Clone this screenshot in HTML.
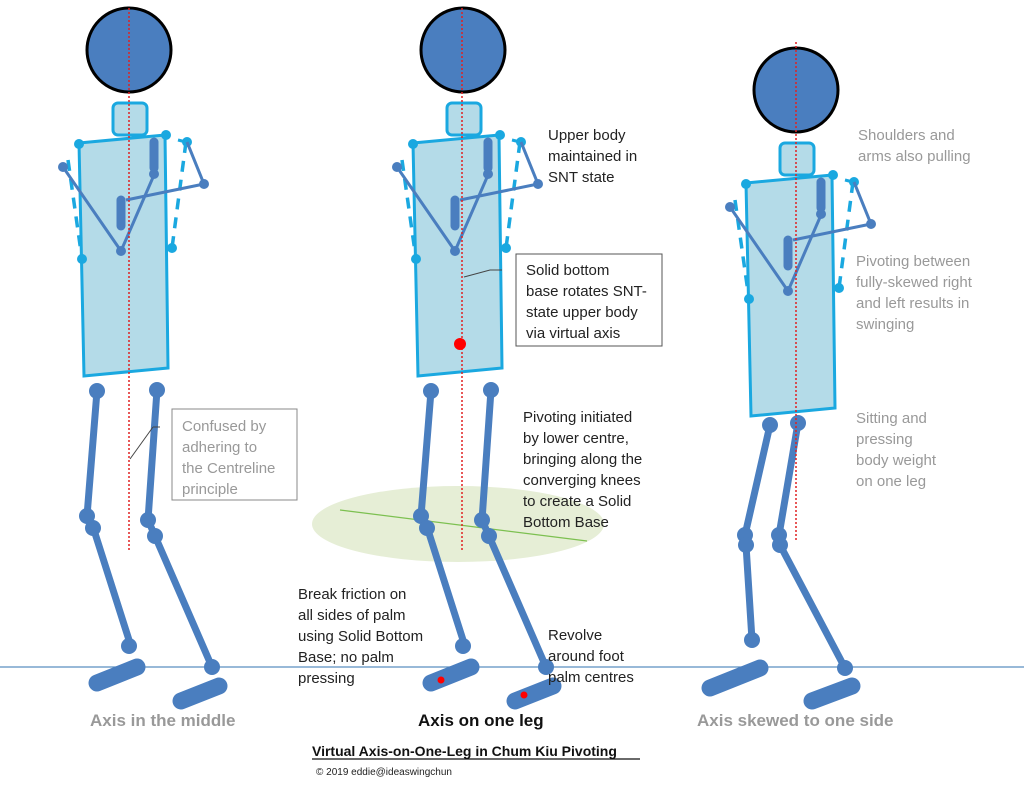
<!DOCTYPE html>
<html><head><meta charset="utf-8"><style>
body{margin:0;background:#fff}
svg{display:block}
text{font-family:"Liberation Sans",sans-serif}
</style></head><body>
<svg width="1024" height="788" viewBox="0 0 1024 788" xmlns="http://www.w3.org/2000/svg">
<defs>
<g id="upper">
 <polygon points="79,143 165,135 168,368 84,376" fill="#b4dbe8" stroke="#1aa8e0" stroke-width="3"/>
 <rect x="113" y="103" width="34" height="32" rx="5" fill="#b4dbe8" stroke="#1aa8e0" stroke-width="3"/>
 <circle cx="129" cy="50" r="42" fill="#4a7ebf" stroke="#000" stroke-width="3"/>
 <line x1="68" y1="160" x2="82" y2="259" stroke="#1aa8e0" stroke-width="3.5" stroke-dasharray="11,8"/>
 <line x1="186" y1="142" x2="172" y2="248" stroke="#1aa8e0" stroke-width="3.5" stroke-dasharray="11,8"/>
 <line x1="178" y1="140" x2="186" y2="142" stroke="#1aa8e0" stroke-width="3"/>
 <circle cx="79" cy="144" r="5" fill="#1aa8e0"/><circle cx="166" cy="135" r="5" fill="#1aa8e0"/>
 <circle cx="82" cy="259" r="5" fill="#1aa8e0"/><circle cx="172" cy="248" r="5" fill="#1aa8e0"/>
 <circle cx="187" cy="142" r="5" fill="#1aa8e0"/>
 <polyline points="63,167 121,251 154,175" fill="none" stroke="#4a7ebf" stroke-width="3"/>
 <polyline points="187,142 204,184 126,200" fill="none" stroke="#4a7ebf" stroke-width="3"/>
 <line x1="154" y1="142" x2="154" y2="168" stroke="#4a7ebf" stroke-width="9" stroke-linecap="round"/>
 <line x1="121" y1="200" x2="121" y2="226" stroke="#4a7ebf" stroke-width="9" stroke-linecap="round"/>
 <circle cx="63" cy="167" r="5" fill="#4a7ebf"/><circle cx="121" cy="251" r="5" fill="#4a7ebf"/>
 <circle cx="204" cy="184" r="5" fill="#4a7ebf"/><circle cx="154" cy="174" r="5" fill="#4a7ebf"/>
</g>
<g id="legs">
 <g stroke="#4a7ebf" stroke-width="7" stroke-linecap="round" fill="none">
  <polyline points="97,391 87,516 93,527 129,640"/>
  <polyline points="157,390 148,520 155,536 212,667"/>
 </g>
 <g stroke="#4a7ebf" stroke-width="17" stroke-linecap="round">
  <line x1="97" y1="683" x2="137" y2="667"/>
  <line x1="181" y1="701" x2="219" y2="686"/>
 </g>
 <g fill="#4a7ebf">
  <circle cx="97" cy="391" r="8"/><circle cx="157" cy="390" r="8"/>
  <circle cx="87" cy="516" r="8"/><circle cx="93" cy="528" r="8"/>
  <circle cx="148" cy="520" r="8"/><circle cx="155" cy="536" r="8"/>
  <circle cx="129" cy="646" r="8"/><circle cx="212" cy="667" r="8"/>
 </g>
</g>
</defs>
<line x1="0" y1="667" x2="1024" y2="667" stroke="#5b8fc0" stroke-width="1.3"/>
<ellipse cx="458" cy="524" rx="146" ry="38" fill="#e6eed6"/>
<line x1="340" y1="510" x2="587" y2="541" stroke="#7cc050" stroke-width="1.2"/>

<use href="#legs"/>
<use href="#upper"/>
<line x1="129" y1="8" x2="129" y2="552" stroke="#e02020" stroke-width="1.5" stroke-dasharray="2,2"/>

<g transform="translate(334,0)"><use href="#legs"/><use href="#upper"/></g>
<line x1="462" y1="8" x2="462" y2="552" stroke="#e02020" stroke-width="1.5" stroke-dasharray="2,2"/>
<circle cx="460" cy="344" r="6" fill="#f00"/>
<circle cx="441" cy="680" r="3.5" fill="#f00"/>
<circle cx="524" cy="695" r="3.5" fill="#f00"/>

<!-- figure 3 -->
<g stroke="#4a7ebf" stroke-width="7" stroke-linecap="round" fill="none">
 <polyline points="770,425 745,535 746,545 752,640"/>
 <polyline points="798,423 779,535 780,545 845,668"/>
</g>
<g stroke="#4a7ebf" stroke-width="17" stroke-linecap="round">
 <line x1="710" y1="688" x2="760" y2="668"/>
 <line x1="812" y1="701" x2="852" y2="686"/>
</g>
<g fill="#4a7ebf">
 <circle cx="770" cy="425" r="8"/><circle cx="798" cy="423" r="8"/>
 <circle cx="745" cy="535" r="8"/><circle cx="746" cy="545" r="8"/>
 <circle cx="779" cy="535" r="8"/><circle cx="780" cy="545" r="8"/>
 <circle cx="752" cy="640" r="8"/><circle cx="845" cy="668" r="8"/>
</g>
<g transform="translate(667,40)"><use href="#upper"/></g>
<line x1="796" y1="42" x2="796" y2="542" stroke="#e02020" stroke-width="1.5" stroke-dasharray="2,2"/>

<!-- callouts -->
<rect x="172" y="409" width="125" height="91" fill="#fff" stroke="#888" stroke-width="1"/>
<line x1="130" y1="459" x2="153" y2="427" stroke="#444" stroke-width="1"/>
<line x1="153" y1="427" x2="160" y2="427" stroke="#444" stroke-width="1"/>
<g font-size="15" fill="#999">
 <text x="182" y="431">Confused by</text>
 <text x="182" y="452">adhering to</text>
 <text x="182" y="473">the Centreline</text>
 <text x="182" y="494">principle</text>
</g>
<rect x="516" y="254" width="146" height="92" fill="#fff" stroke="#555" stroke-width="1"/>
<polyline points="464,277 490,270 502,270" fill="none" stroke="#444" stroke-width="1"/>
<g font-size="15" fill="#222">
 <text x="526" y="275">Solid bottom</text>
 <text x="526" y="296">base rotates SNT-</text>
 <text x="526" y="317">state upper body</text>
 <text x="526" y="338">via virtual axis</text>
 <text x="548" y="140">Upper body</text>
 <text x="548" y="161">maintained in</text>
 <text x="548" y="182">SNT state</text>
 <text x="523" y="422">Pivoting initiated</text>
 <text x="523" y="443">by lower centre,</text>
 <text x="523" y="464">bringing along the</text>
 <text x="523" y="485">converging knees</text>
 <text x="523" y="506">to create a Solid</text>
 <text x="523" y="527">Bottom Base</text>
 <text x="298" y="599">Break friction on</text>
 <text x="298" y="620">all sides of palm</text>
 <text x="298" y="641">using Solid Bottom</text>
 <text x="298" y="662">Base; no palm</text>
 <text x="298" y="683">pressing</text>
 <text x="548" y="640">Revolve</text>
 <text x="548" y="661">around foot</text>
 <text x="548" y="682">palm centres</text>
</g>
<g font-size="15" fill="#999">
 <text x="858" y="140">Shoulders and</text>
 <text x="858" y="161">arms also pulling</text>
 <text x="856" y="266">Pivoting between</text>
 <text x="856" y="287">fully-skewed right</text>
 <text x="856" y="308">and left results in</text>
 <text x="856" y="329">swinging</text>
 <text x="856" y="423">Sitting and</text>
 <text x="856" y="444">pressing</text>
 <text x="856" y="465">body weight</text>
 <text x="856" y="486">on one leg</text>
</g>
<g font-size="17" font-weight="bold">
 <text x="90" y="726" fill="#999">Axis in the middle</text>
 <text x="418" y="726" fill="#111">Axis on one leg</text>
 <text x="697" y="726" fill="#999">Axis skewed to one side</text>
</g>
<text x="312" y="756" font-size="14" font-weight="bold" fill="#111">Virtual Axis-on-One-Leg in Chum Kiu Pivoting</text>
<line x1="312" y1="759" x2="640" y2="759" stroke="#111" stroke-width="1.2"/>
<text x="316" y="775" font-size="10" fill="#222">© 2019 eddie@ideaswingchun</text>
</svg>
</body></html>
